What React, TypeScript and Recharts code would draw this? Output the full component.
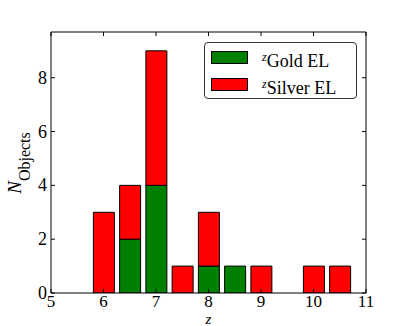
import React from 'react';
import { BarChart, Bar, XAxis, YAxis, Legend, Label } from 'recharts';

const zCenters = [5.5, 6, 6.5, 7, 7.5, 8, 8.5, 9, 9.5, 10, 10.5];
const goldCounts = [0, 0, 2, 4, 0, 1, 1, 0, 0, 0, 0];
const silverCounts = [0, 3, 2, 5, 1, 2, 0, 1, 0, 1, 1];

const xTicks = [5, 6, 7, 8, 9, 10, 11];
const yTicks = [0, 2, 4, 6, 8];

const legendItems = [
  { name: 'Gold EL', color: '#008000' },
  { name: 'Silver EL', color: '#ff0000' },
];

const data = zCenters.map((z, i) => ({ z, gold: goldCounts[i], silver: silverCounts[i] }));

const FONT = '"Liberation Serif", "Times New Roman", serif';
const TICK_LEN = 4;

const BottomTick = ({ x, y, payload }: any) => (
  <g>
    <line x1={x} y1={y} x2={x} y2={y - TICK_LEN} stroke="#000" />
    <text x={x} y={y + 14} textAnchor="middle" fontFamily={FONT} fontSize={17} fill="#000">
      {payload.value}
    </text>
  </g>
);

const TopTick = ({ x, y }: any) => (
  <line x1={x} y1={y} x2={x} y2={y + TICK_LEN} stroke="#000" />
);

const LeftTick = ({ x, y, payload }: any) => (
  <g>
    <line x1={x} y1={y} x2={x + TICK_LEN} y2={y} stroke="#000" />
    <text x={x - 4} y={y + 6} textAnchor="end" fontFamily={FONT} fontSize={18} fill="#000">
      {payload.value}
    </text>
  </g>
);

const RightTick = ({ x, y }: any) => (
  <line x1={x} y1={y} x2={x - TICK_LEN} y2={y} stroke="#000" />
);

const LegendBox = () => (
  <div
    style={{
      position: 'absolute',
      left: 0,
      top: 0,
      width: 151,
      height: 55,
      border: '1px solid #333',
      borderRadius: 4,
      background: '#fff',
      fontFamily: FONT,
      fontSize: 18,
      color: '#000',
      boxSizing: 'content-box',
    }}
  >
    {legendItems.map((item) => (
      <div key={item.name} style={{ position: 'relative', height: 27 }}>
        <div
          style={{
            position: 'absolute',
            left: 6,
            top: 8,
            width: 37,
            height: 13,
            background: item.color,
            border: '1px solid #000',
            boxSizing: 'border-box',
          }}
        />
        <div style={{ position: 'absolute', left: 57, top: 3, whiteSpace: 'nowrap', lineHeight: '22px' }}>
          <span style={{ fontStyle: 'italic', fontSize: 12, verticalAlign: 6 }}>z</span>
          {item.name}
        </div>
      </div>
    ))}
  </div>
);

const YTitle = () => (
  <text
    x={21}
    y={163}
    transform="rotate(-90, 21, 163)"
    textAnchor="middle"
    fontFamily={FONT}
    fill="#000"
  >
    <tspan fontStyle="italic" fontSize={19}>N</tspan>
    <tspan fontSize={16} dy={9}>Objects</tspan>
  </text>
);

const XTitle = () => (
  <text x={208.5} y={324} textAnchor="middle" fontFamily={FONT} fontStyle="italic" fontSize={15} fill="#000">
    z
  </text>
);

export default function App() {
  return (
    <div style={{ position: 'absolute', left: 0, top: 0, width: 407, height: 326, background: '#fff' }}>
      <BarChart
        width={407}
        height={326}
        data={data}
        margin={{ top: 31, right: 40, bottom: 32, left: 50 }}
        barGap={0}
      >
        <XAxis
          xAxisId="bottom"
          dataKey="z"
          type="number"
          domain={[5, 11]}
          ticks={xTicks}
          allowDataOverflow
          height={1}
          tickSize={0}
          tickMargin={0}
          axisLine={{ stroke: '#000', strokeWidth: 1 }}
          tickLine={false}
          tick={<BottomTick />}
          interval={0}
        >
          <Label content={() => <XTitle />} />
        </XAxis>
        <XAxis
          xAxisId="top"
          orientation="top"
          dataKey="z"
          type="number"
          domain={[5, 11]}
          ticks={xTicks}
          allowDataOverflow
          height={1}
          tickSize={0}
          tickMargin={0}
          axisLine={{ stroke: '#000', strokeWidth: 1 }}
          tickLine={false}
          tick={<TopTick />}
          interval={0}
        />
        <YAxis
          yAxisId="left"
          type="number"
          domain={[0, 9.7]}
          ticks={yTicks}
          allowDataOverflow
          width={1}
          tickSize={0}
          tickMargin={0}
          axisLine={{ stroke: '#000', strokeWidth: 1 }}
          tickLine={false}
          tick={<LeftTick />}
          interval={0}
        >
          <Label content={() => <YTitle />} />
        </YAxis>
        <YAxis
          yAxisId="right"
          orientation="right"
          type="number"
          domain={[0, 9.7]}
          ticks={yTicks}
          allowDataOverflow
          width={1}
          tickSize={0}
          tickMargin={0}
          axisLine={{ stroke: '#000', strokeWidth: 1 }}
          tickLine={false}
          tick={<RightTick />}
          interval={0}
        />
        <Legend
          content={() => <LegendBox />}
          wrapperStyle={{ position: 'absolute', left: 204, top: 42, width: 0, height: 0, overflow: 'visible' }}
        />
        <Bar
          dataKey="gold"
          name="Gold EL"
          stackId="z"
          xAxisId="bottom"
          yAxisId="left"
          fill="#008000"
          stroke="#000"
          strokeWidth={1}
          barSize={21}
          isAnimationActive={false}
        />
        <Bar
          dataKey="silver"
          name="Silver EL"
          stackId="z"
          xAxisId="bottom"
          yAxisId="left"
          fill="#ff0000"
          stroke="#000"
          strokeWidth={1}
          barSize={21}
          isAnimationActive={false}
        />
      </BarChart>
    </div>
  );
}
